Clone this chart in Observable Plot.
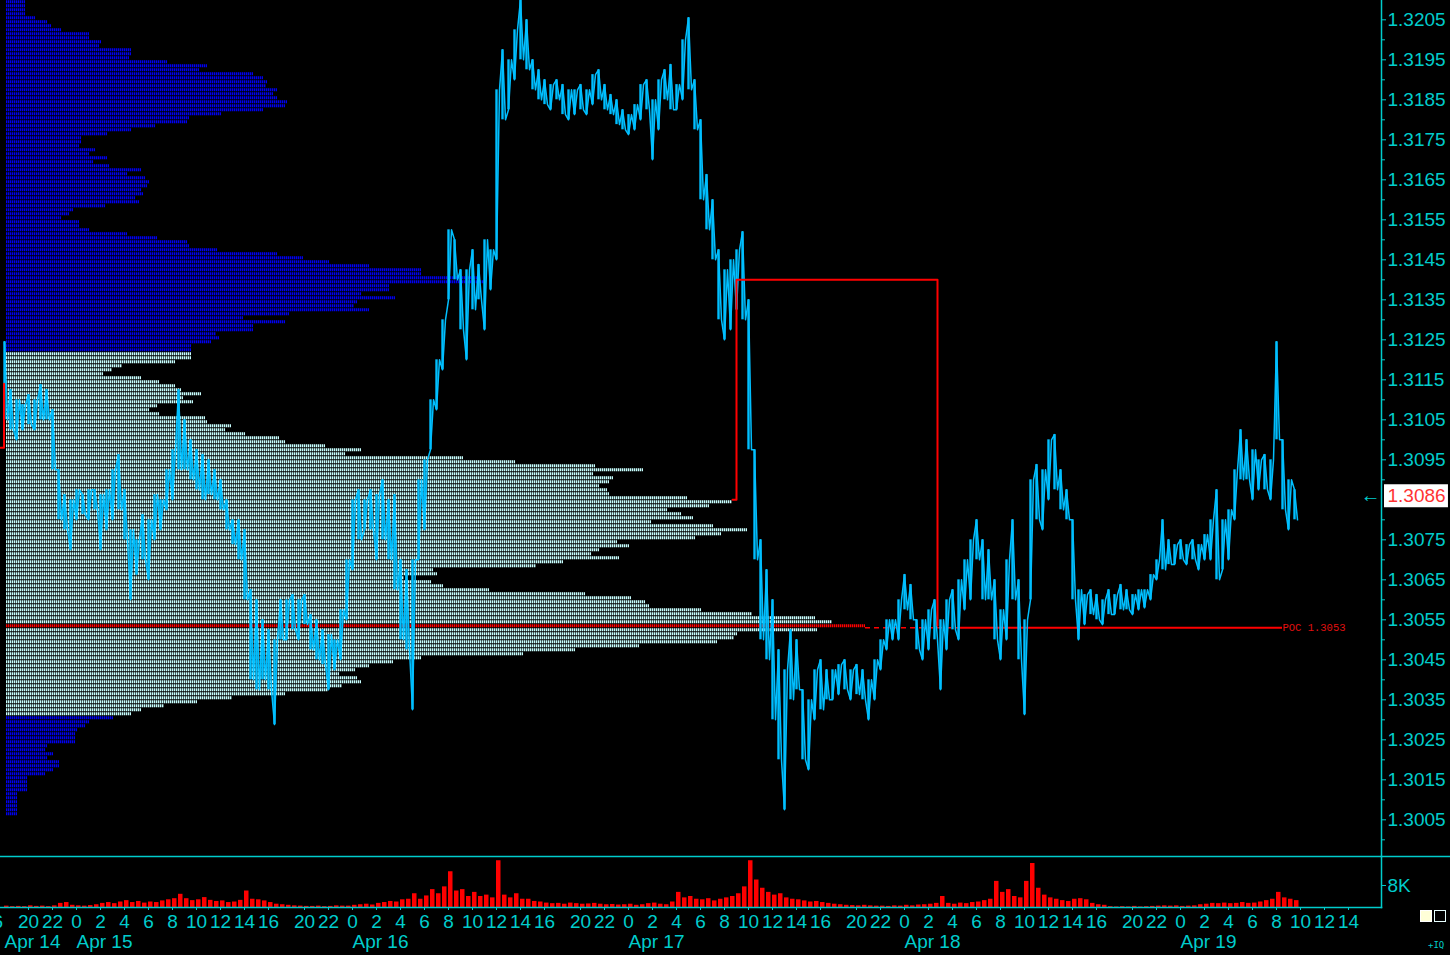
<!DOCTYPE html>
<html><head><meta charset="utf-8">
<script src="https://cdn.jsdelivr.net/npm/d3@7"></script>
<script src="https://cdn.jsdelivr.net/npm/@observablehq/plot@0.6"></script>
<style>
html,body{margin:0;padding:0;background:#000;}
#wrap{position:relative;width:1450px;height:955px;background:#000;overflow:hidden;font-family:"Liberation Sans",Arial,sans-serif;}
#wrap svg{position:absolute;left:0;}
.sq{position:absolute;box-sizing:border-box;}
</style></head><body><div id="wrap"></div>
<script>
// ---- time axis: trading hours since Apr 14 18:00 (daily 17:00-18:00 break removed) ----
const barHours = 0.5;
const hourTickTimes = [-1,2,4,6,8,10,12,14,16,18,20,22,25,27,29,31,33,35,37,39,41,43,45,48,50,52,54,56,58,60,62,64,66,68,71,73,75,77,79,81,83,85,87,89,91,94,96,98,100,102,104,106,108,110,112];
const hourTickLabels = ["16","20","22","0","2","4","6","8","10","12","14","16","20","22","0","2","4","6","8","10","12","14","16","20","22","0","2","4","6","8","10","12","14","16","20","22","0","2","4","6","8","10","12","14","16","20","22","0","2","4","6","8","10","12","14"];
const dateLabels = ["Apr 14","Apr 15","Apr 16","Apr 17","Apr 18","Apr 19"];
const dateTimes = [0,6,29,52,75,98];

// ---- price bars (30 min high / low) ----
const priceHigh = [
1.31245,1.31125,1.31100,1.31088,1.31113,1.31100,1.31138,1.31125,1.31075,1.30925,
1.30863,1.30850,1.30875,1.30863,1.30875,1.30875,1.30863,1.30875,1.30925,1.30963,
1.30875,1.30775,1.30750,1.30813,1.30800,1.30863,1.30850,1.30925,1.30975,1.31125,
1.31050,1.31000,1.30975,1.30963,1.30950,1.30925,1.30900,1.30850,1.30800,1.30800,
1.30775,1.30625,1.30600,1.30550,1.30525,1.30500,1.30600,1.30600,1.30613,1.30600,
1.30613,1.30563,1.30550,1.30525,1.30513,1.30500,1.30575,1.30700,1.30850,1.30875,
1.30850,1.30875,1.30863,1.30900,1.30850,1.30863,1.30700,1.30675,1.30700,1.30900,
1.30950,1.31100,1.31200,1.31300,1.31525,1.31500,1.31425,1.31425,1.31475,1.31438,
1.31500,1.31475,1.31875,1.31975,1.31950,1.32025,1.32100,1.32050,1.31950,1.31925,
1.31900,1.31888,1.31900,1.31888,1.31875,1.31875,1.31888,1.31875,1.31913,1.31925,
1.31888,1.31863,1.31850,1.31825,1.31813,1.31838,1.31888,1.31900,1.31850,1.31900,
1.31925,1.31938,1.31888,1.32000,1.32055,1.31900,1.31800,1.31663,1.31600,1.31475,
1.31425,1.31450,1.31475,1.31520,1.31350,1.30975,1.30750,1.30675,1.30600,1.30475,
1.30425,1.30525,1.30500,1.30375,1.30350,1.30425,1.30450,1.30425,1.30425,1.30438,
1.30450,1.30425,1.30438,1.30425,1.30400,1.30450,1.30500,1.30550,1.30550,1.30600,
1.30663,1.30638,1.30550,1.30550,1.30575,1.30600,1.30550,1.30600,1.30625,1.30650,
1.30700,1.30750,1.30800,1.30750,1.30725,1.30650,1.30575,1.30700,1.30800,1.30650,
1.30550,1.30900,1.30938,1.30925,1.31000,1.31013,1.30925,1.30875,1.30800,1.30625,
1.30613,1.30625,1.30613,1.30600,1.30625,1.30613,1.30638,1.30625,1.30613,1.30625,
1.30625,1.30663,1.30700,1.30800,1.30750,1.30738,1.30750,1.30738,1.30750,1.30738,
1.30763,1.30800,1.30875,1.30800,1.30825,1.30925,1.31025,1.31000,1.30975,1.30950,
1.30963,1.30950,1.31245,1.31000,1.30900,1.30875];
const priceLow = [
1.31050,1.31025,1.31000,1.31025,1.31038,1.31025,1.31050,1.31050,1.30925,1.30800,
1.30775,1.30725,1.30800,1.30813,1.30800,1.30825,1.30725,1.30775,1.30800,1.30825,
1.30750,1.30600,1.30663,1.30700,1.30650,1.30750,1.30775,1.30825,1.30850,1.30925,
1.30925,1.30900,1.30875,1.30850,1.30863,1.30850,1.30825,1.30775,1.30738,1.30700,
1.30600,1.30400,1.30375,1.30400,1.30375,1.30288,1.30500,1.30500,1.30525,1.30500,
1.30538,1.30475,1.30450,1.30438,1.30375,1.30425,1.30450,1.30550,1.30675,1.30750,
1.30775,1.30775,1.30700,1.30750,1.30700,1.30625,1.30500,1.30475,1.30325,1.30700,
1.30775,1.30975,1.31075,1.31175,1.31350,1.31400,1.31275,1.31200,1.31325,1.31350,
1.31275,1.31375,1.31450,1.31800,1.31825,1.31900,1.31950,1.31925,1.31875,1.31850,
1.31838,1.31825,1.31850,1.31813,1.31800,1.31813,1.31825,1.31813,1.31838,1.31850,
1.31825,1.31813,1.31788,1.31775,1.31763,1.31775,1.31800,1.31825,1.31700,1.31775,
1.31850,1.31825,1.31825,1.31850,1.31875,1.31775,1.31600,1.31525,1.31450,1.31300,
1.31250,1.31275,1.31325,1.31300,1.30975,1.30700,1.30500,1.30450,1.30300,1.30200,
1.30075,1.30350,1.30375,1.30200,1.30175,1.30300,1.30325,1.30350,1.30350,1.30363,
1.30375,1.30350,1.30363,1.30350,1.30300,1.30350,1.30425,1.30475,1.30500,1.30500,
1.30575,1.30550,1.30475,1.30450,1.30475,1.30500,1.30375,1.30475,1.30525,1.30500,
1.30575,1.30600,1.30700,1.30600,1.30600,1.30500,1.30450,1.30500,1.30600,1.30450,
1.30313,1.30600,1.30800,1.30775,1.30850,1.30875,1.30825,1.30800,1.30600,1.30500,
1.30538,1.30563,1.30550,1.30538,1.30563,1.30563,1.30575,1.30575,1.30563,1.30575,
1.30580,1.30600,1.30650,1.30675,1.30688,1.30688,1.30700,1.30688,1.30700,1.30675,
1.30700,1.30700,1.30650,1.30675,1.30700,1.30800,1.30900,1.30900,1.30850,1.30875,
1.30875,1.30850,1.31000,1.30825,1.30775,1.30800];
// ---- volume per 30 min (thousands) ----
const volumeK = [
0.5,0.3,0.4,0.3,0.6,0.4,0.5,0.3,0.6,1.5,
1.8,0.8,0.6,0.5,0.7,1.0,1.5,1.8,1.4,2.0,
2.5,1.8,2.2,1.6,2.0,1.8,2.4,2.8,3.2,4.8,
3.2,2.5,2.8,3.6,2.6,2.2,2.4,1.8,2.0,2.6,
6.0,3.0,2.8,2.4,1.8,1.2,1.0,0.8,0.6,0.5,
0.4,0.4,0.5,0.3,0.4,0.6,0.5,0.5,0.8,1.0,
1.2,0.9,1.5,1.8,2.2,2.0,2.8,3.0,5.0,3.0,
4.2,6.5,5.0,7.5,13.0,6.0,6.5,4.0,5.5,4.0,
4.5,3.5,17.0,4.5,3.5,5.0,3.0,3.0,2.2,2.0,
1.6,1.4,1.5,1.2,1.6,1.4,1.2,1.3,1.5,1.2,
1.0,1.1,0.9,1.0,1.2,0.8,1.0,1.4,1.6,1.2,
1.0,2.0,5.5,3.5,4.0,3.0,2.8,3.2,2.4,3.0,
3.5,4.0,5.0,7.5,17.0,10.0,7.0,5.5,4.5,5.0,
3.5,3.0,2.8,2.4,2.0,2.2,1.8,1.5,1.2,1.0,
0.8,0.7,0.6,0.8,0.6,0.5,0.5,0.4,0.6,0.5,
0.8,0.6,0.9,1.0,1.2,1.5,4.0,1.5,1.2,1.6,
1.4,1.8,2.0,2.5,3.0,9.5,5.5,6.5,4.0,3.5,
9.5,16.0,7.0,4.5,3.5,3.0,2.5,2.2,3.0,3.2,
2.8,1.5,1.0,0.8,0.3,0.2,0.3,0.2,0.4,0.2,
0.3,0.4,0.5,0.6,0.5,0.6,0.4,0.5,0.6,1.0,
1.2,1.5,1.4,1.6,1.4,1.5,1.8,1.5,1.6,2.0,
2.5,3.0,5.5,3.5,3.0,2.5];

// ---- volume profile: one row per pip, from 1.3209 downwards ----
const profileTop = 1.3209;
const profileStep = 0.0001;
const profileVolume = [
1.9,1.9,1.9,1.9,2.9,4.1,4.5,5.5,8.3,8.3,
9.5,9.3,12.5,12.5,12.3,16.1,20.1,19.3,24.7,25.7,
26.1,26.0,27.1,26.7,27.1,28.1,27.9,25.7,21.5,18.3,
18.1,14.9,12.5,10.1,7.5,7.5,7.3,8.9,8.3,10.1,
8.7,10.3,13.5,12.1,13.9,14.3,14.1,13.5,13.7,12.9,
13.3,9.9,6.7,6.3,5.5,7.3,7.3,8.3,12.1,15.1,
18.1,18.3,21.1,27.1,29.7,32.3,36.3,41.5,41.5,47.4,
48.0,38.3,38.3,35.5,38.9,35.1,34.8,36.3,28.3,23.7,
27.9,24.7,24.7,21.0,21.3,20.5,18.5,18.5,18.5,18.5,
16.9,11.6,10.6,9.7,13.5,15.3,16.9,17.5,19.5,17.7,
18.7,15.1,14.3,15.3,19.9,20.1,22.5,21.9,23.9,27.3,
27.9,31.9,35.5,33.9,45.7,50.9,58.9,63.7,58.7,60.7,
60.3,59.3,60.1,60.3,68.1,72.6,70.3,66.1,67.5,68.7,
64.5,70.7,74.1,71.5,68.9,61.1,62.3,59.3,58.5,61.3,
55.7,53.0,42.7,43.1,39.8,42.5,43.7,48.3,57.9,62.5,
63.9,64.3,69.5,74.6,80.9,82.6,85.9,81.1,73.1,72.8,
71.1,63.3,56.9,51.7,41.5,38.7,36.3,34.9,33.3,35.1,
35.5,33.6,32.2,27.9,22.6,19.1,15.8,13.5,12.5,10.7,
8.3,7.9,7.1,6.9,6.9,6.9,4.1,3.9,4.7,4.1,
5.3,5.3,4.7,3.9,2.1,2.1,2.1,2.1,1.1,1.1,
1.1,1.1,1.1,1.1];
const valueAreaHigh = 1.3121;
const valueAreaLow = 1.3031;
const pocPrice = 1.3053;

// ---- reference lines ----
const boxTimes = [60.67, 61.0, 61.0, 77.75, 77.75];
const boxPrices = [1.3085, 1.3085, 1.3140, 1.3140, 1.30535];
const prevBoxTimes = [-0.33, -0.04, -0.04];
const prevBoxPrices = [1.3098, 1.3098, 1.3114];
const pocTimes = [71.75, 79.67, 106.5]; // dashed part, then solid up to label
const lastClose = 1.3086;

// ---- axis ticks (1.3085 is hidden behind the last-price tag) ----
const priceTicks = [1.3005,1.3015,1.3025,1.3035,1.3045,1.3055,1.3065,1.3075,1.3095,1.3105,1.3115,1.3125,1.3135,1.3145,1.3155,1.3165,1.3175,1.3185,1.3195,1.3205];
const priceMinorTicks = [1.3000,1.3010,1.3020,1.3030,1.3040,1.3050,1.3060,1.3070,1.3080,1.3090,1.3100,1.3110,1.3120,1.3130,1.3140,1.3150,1.3160,1.3170,1.3180,1.3190,1.3200];
const volumeTicks = [8];

// ---- layout constants ----
const W = 1450, MR = 69;
const xDomain = [-1/3, 114.75];
const priceDomain = [1.299583, 1.320983];
const cyan = "#00cccc", priceColor = "#00bfff", red = "#ff0000";
const font = "'Liberation Sans', Arial, sans-serif";

const bars = priceHigh.map((h, i) => ({t: i * barHours, hi: h, lo: priceLow[i]}));
const zig = [];
bars.forEach((b, i) => {
  const nxt = bars[i + 1] || b;
  const up = (nxt.hi + nxt.lo) > (b.hi + b.lo);
  if (up) { zig.push({t: b.t, p: b.lo}, {t: b.t + 0.25, p: b.hi}); }
  else { zig.push({t: b.t, p: b.hi}, {t: b.t + 0.25, p: b.lo}); }
});
const vol = volumeK.map((v, i) => ({t: i * barHours, v}));
const profile = profileVolume.map((v, k) => {
  const level = +(profileTop - k * profileStep).toFixed(4);
  const color = Math.abs(level - pocPrice) < 1e-6 ? red : (level <= valueAreaHigh + 1e-9 && level >= valueAreaLow - 1e-9 ? "#c8ffff" : "#0000f0");
  return {level, mid: level + profileStep / 2, v, color};
});
const line = (ts, ps) => ts.map((t, i) => ({t, p: ps[i]}));

const wrap = document.getElementById("wrap");

// Profile layer
const profilePlot = Plot.plot({
  width: W, height: 856, marginLeft: 6, marginRight: MR, marginTop: 0, marginBottom: 0,
  style: {background: "transparent"},
  x: {domain: [0, 137.5], axis: null},
  y: {domain: priceDomain, axis: null},
  marks: [
    Plot.ruleY(profile, {y: "mid", x1: 0, x2: "v", stroke: "color", strokeWidth: 3, strokeDasharray: "1.4,0.6"})
  ]
});
profilePlot.style.top = "0px";
wrap.appendChild(profilePlot);

// Price layer
const pricePlot = Plot.plot({
  width: W, height: 856, marginLeft: 0, marginRight: MR, marginTop: 0, marginBottom: 0,
  style: {background: "transparent", color: cyan, fontFamily: font, overflow: "visible"},
  x: {domain: xDomain, axis: null},
  y: {domain: priceDomain},
  marks: [
    Plot.ruleY([pocPrice], {x1: pocTimes[0], x2: pocTimes[1], stroke: red, strokeWidth: 1.5, strokeDasharray: "5,4"}),
    Plot.ruleY([pocPrice], {x1: pocTimes[1], x2: pocTimes[2], stroke: red, strokeWidth: 2}),
    Plot.text([pocPrice], {x: pocTimes[2], y: d => d, text: d => "POC " + d3.format(".4f")(d), textAnchor: "start", fill: "#e01010", fontSize: 10.5, fontFamily: "'Liberation Mono', 'DejaVu Sans Mono', monospace"}),
    Plot.ruleX(bars, {x: "t", y1: "lo", y2: "hi", stroke: priceColor, strokeWidth: 2.4}),
    Plot.line(zig, {x: "t", y: "p", stroke: priceColor, strokeWidth: 1.5}),
    Plot.line(line(boxTimes, boxPrices), {x: "t", y: "p", stroke: red, strokeWidth: 2}),
    Plot.line(line(prevBoxTimes, prevBoxPrices), {x: "t", y: "p", stroke: red, strokeWidth: 2}),
    Plot.frame({anchor: "right", stroke: cyan, strokeWidth: 1.5}),
    Plot.axisY({anchor: "right", ticks: priceMinorTicks, tickSize: 3, tickFormat: () => "", label: null, stroke: cyan}),
    Plot.axisY({anchor: "right", ticks: priceTicks, tickSize: 4, tickPadding: 2, tickFormat: d3.format(".4f"), fontSize: 19, label: null, fill: cyan, stroke: cyan}),
    Plot.ruleY([lastClose], {x1: xDomain[1] + 0.25, x2: xDomain[1] + 5.58, stroke: "white", strokeWidth: 23}),
    Plot.text([lastClose], {x: xDomain[1], y: d => d, text: d => d3.format(".4f")(d), dx: 6, textAnchor: "start", fill: "#ff3333", fontSize: 19}),
    Plot.text([lastClose], {x: xDomain[1], y: d => d, text: () => "←", dx: -1, textAnchor: "end", fill: cyan, fontSize: 20, fontWeight: "bold"})
  ]
});
pricePlot.style.top = "0px";
wrap.appendChild(pricePlot);

// Volume layer + time axis
const tickMap = new Map(hourTickTimes.map((t, i) => [t, hourTickLabels[i]]));
const volumePlot = Plot.plot({
  width: W, height: 99, marginLeft: 0, marginRight: MR, marginTop: 0, marginBottom: 48,
  style: {background: "transparent", color: cyan, fontFamily: font, overflow: "visible"},
  x: {domain: xDomain},
  y: {domain: [0, 18.545]},
  marks: [
    Plot.rectY(vol, {x1: "t", x2: d => d.t + barHours, y: "v", fill: red, insetRight: 1.5}),
    Plot.ruleY([18.545], {x1: xDomain[0], x2: 120.6, stroke: cyan, strokeWidth: 1.5}),
    Plot.frame({anchor: "bottom", stroke: cyan, strokeWidth: 1.5}),
    Plot.frame({anchor: "right", stroke: cyan, strokeWidth: 1.5}),
    Plot.axisY({anchor: "right", ticks: volumeTicks, tickSize: 4, tickPadding: 2, tickFormat: d => d + "K", fontSize: 19, label: null}),
    Plot.axisX({anchor: "bottom", ticks: hourTickTimes, tickSize: 3, tickPadding: 4, tickFormat: d => tickMap.get(d), fontSize: 19, label: null}),
    Plot.text(dateLabels.map((l, i) => ({l, t: dateTimes[i]})), {x: "t", text: "l", frameAnchor: "bottom", dy: 40, textAnchor: "start", fill: cyan, fontSize: 19})
  ]
});
volumePlot.style.top = "856px";
wrap.appendChild(volumePlot);

// small window widgets bottom-right
const s1 = document.createElement("div"); s1.className = "sq";
Object.assign(s1.style, {left: "1420px", top: "910px", width: "12px", height: "12px", background: "#ffffd8", border: "1px solid #ffffff"});
const s2 = document.createElement("div"); s2.className = "sq";
Object.assign(s2.style, {left: "1434px", top: "910px", width: "12px", height: "12px", border: "1px solid #e8ffff"});
const iq = document.createElement("div");
Object.assign(iq.style, {position: "absolute", left: "1428px", top: "940px", color: cyan, fontSize: "9px", fontFamily: "'DejaVu Sans Mono', monospace"});
iq.textContent = "+IQ";
wrap.append(s1, s2, iq);
</script></body></html>
